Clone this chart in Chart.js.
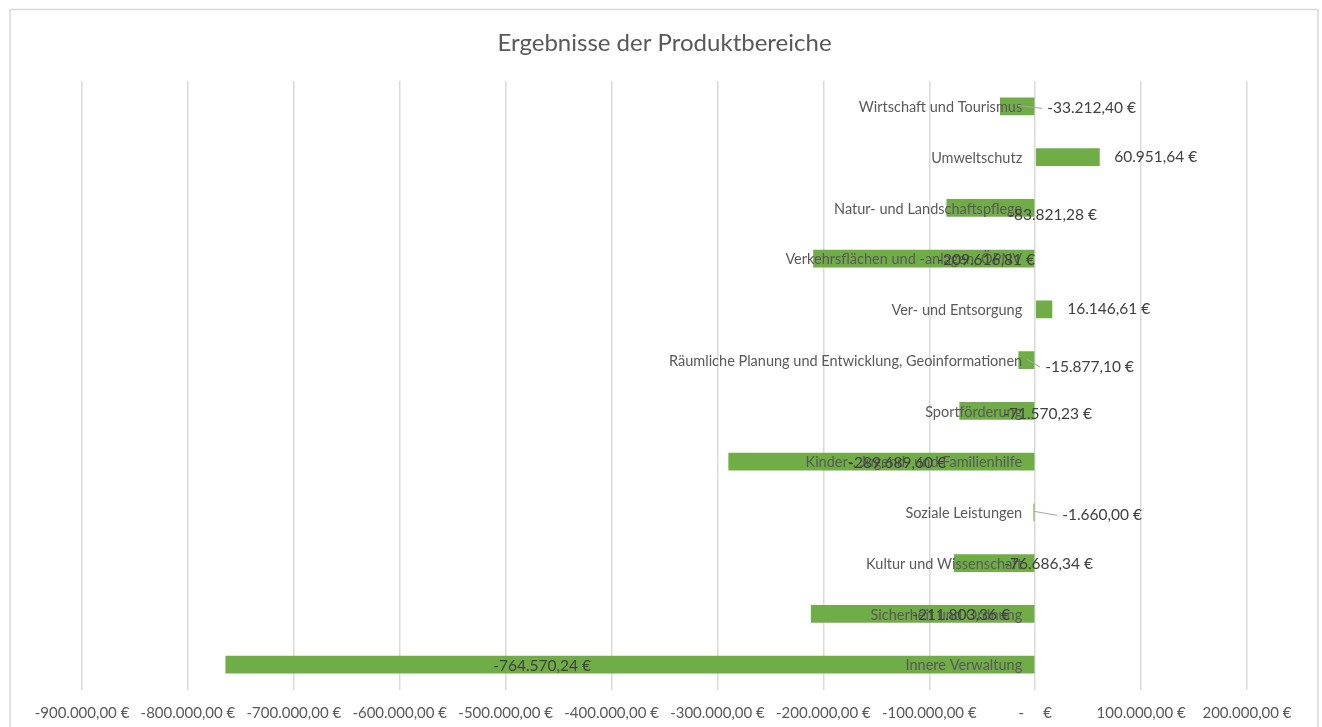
<!DOCTYPE html>
<html>
<head>
<meta charset="utf-8">
<script src="https://cdn.jsdelivr.net/npm/chart.js@4"></script>
<style>
  html, body { margin: 0; padding: 0; background: #fff; }
  #wrap { width: 1322px; height: 727px; position: relative; }
</style>
</head>
<body>
<div id="wrap"><canvas id="chart" width="1322" height="727"></canvas></div>
<script>
const categories = [
  "Wirtschaft und Tourismus",
  "Umweltschutz",
  "Natur- und Landschaftspflege",
  "Verkehrsflächen und -anlagen, ÖPNV",
  "Ver- und Entsorgung",
  "Räumliche Planung und Entwicklung, Geoinformationen",
  "Sportförderung",
  "Kinder-, Jugend- und Familienhilfe",
  "Soziale Leistungen",
  "Kultur und Wissenschaft",
  "Sicherheit und Ordnung",
  "Innere Verwaltung",
];
const results = [
  -33212.40, 60951.64, -83821.28, -209616.81, 16146.61, -15877.10,
  -71570.23, -289689.60, -1660.00, -76686.34, -211803.36, -764570.24,
];
const axisMin = -900000;
const axisMax = 200000;
const axisStep = 100000;

// where the (hand-moved) data labels sit, in px from the zero line
const labelDx = [12, 79, -27, -98, 32, 10, -32, -187, 27, -31, -123, -542];
const labelDy = [2, 0, 7, 1, 0, 7, 3, 1, 3, 1, 1, 1];
const leader = [true, false, false, false, false, true, false, false, true, false, false, false];

const FONT = "Lato, 'Open Sans', sans-serif";
const GREY = "#595959";

const euro = (v) => {
  if (v === 0) return "-     €";
  const neg = v < 0;
  let [i, d] = Math.abs(v).toFixed(2).split(".");
  i = i.replace(/\B(?=(\d{3})+(?!\d))/g, ".");
  return (neg ? "-" : "") + i + "," + d + " €";
};

const frame = {
  id: "frame",
  beforeDraw(chart) {
    const ctx = chart.ctx;
    ctx.save();
    ctx.fillStyle = "#fff";
    ctx.fillRect(0, 0, chart.width, chart.height);
    ctx.strokeStyle = "#d9d9d9";
    ctx.lineWidth = 1.5;
    ctx.strokeRect(10, 9.5, 1308, 800);
    ctx.restore();
  },
};

const labels = {
  id: "labels",
  afterDatasetsDraw(chart) {
    const ctx = chart.ctx;
    const xs = chart.scales.x;
    const ys = chart.scales.y;
    const zero = xs.getPixelForValue(0);
    ctx.save();
    ctx.textBaseline = "middle";

    // category names sit next to the zero line, like Excel's axis labels
    ctx.font = "14.5px " + FONT;
    ctx.fillStyle = GREY;
    ctx.textAlign = "right";
    categories.forEach((c, i) => {
      ctx.fillText(c, zero - 13, ys.getPixelForValue(i) + 1);
    });

    // data labels
    ctx.font = "15.5px " + FONT;
    ctx.fillStyle = "#404040";
    ctx.textAlign = "left";
    results.forEach((v, i) => {
      const y = ys.getPixelForValue(i);
      const lx = zero + labelDx[i];
      const ly = y + labelDy[i];
      if (leader[i]) {
        const mid = (xs.getPixelForValue(v) + zero) / 2;
        ctx.strokeStyle = "#a6a6a6";
        ctx.lineWidth = 1;
        ctx.beginPath();
        ctx.moveTo(mid, y - 1);
        ctx.lineTo(lx - 5, ly);
        ctx.stroke();
      }
      ctx.fillText(euro(v), lx, ly);
    });
    ctx.restore();
  },
};

new Chart(document.getElementById("chart"), {
  type: "bar",
  data: {
    labels: categories,
    datasets: [
      {
        label: "Ergebnis",
        data: results,
        backgroundColor: "#70ad47",
        borderWidth: 0,
        barPercentage: 0.35,
        categoryPercentage: 1,
      },
    ],
  },
  options: {
    indexAxis: "y",
    responsive: false,
    animation: false,
    layout: {
      padding: { left: 82, right: 75, top: 0, bottom: 0 },
    },
    plugins: {
      legend: { display: false },
      tooltip: { enabled: false },
      title: {
        display: true,
        text: "Ergebnisse der Produktbereiche",
        color: GREY,
        font: { family: FONT, size: 24, weight: "normal" },
        padding: { top: 28.6, bottom: 23.6 },
      },
    },
    scales: {
      x: {
        min: axisMin,
        max: axisMax,
        border: { display: false },
        grid: { color: "#d9d9d9", lineWidth: 1.5, drawTicks: false },
        afterFit: (scale) => {
          scale.height = 37;
        },
        ticks: {
          stepSize: axisStep,
          padding: 14,
          color: GREY,
          font: { family: FONT, size: 15 },
          maxRotation: 0,
          autoSkip: false,
          callback: (v) => euro(v),
        },
      },
      y: {
        display: false,
      },
    },
  },
  plugins: [frame, labels],
});
</script>
</body>
</html>
